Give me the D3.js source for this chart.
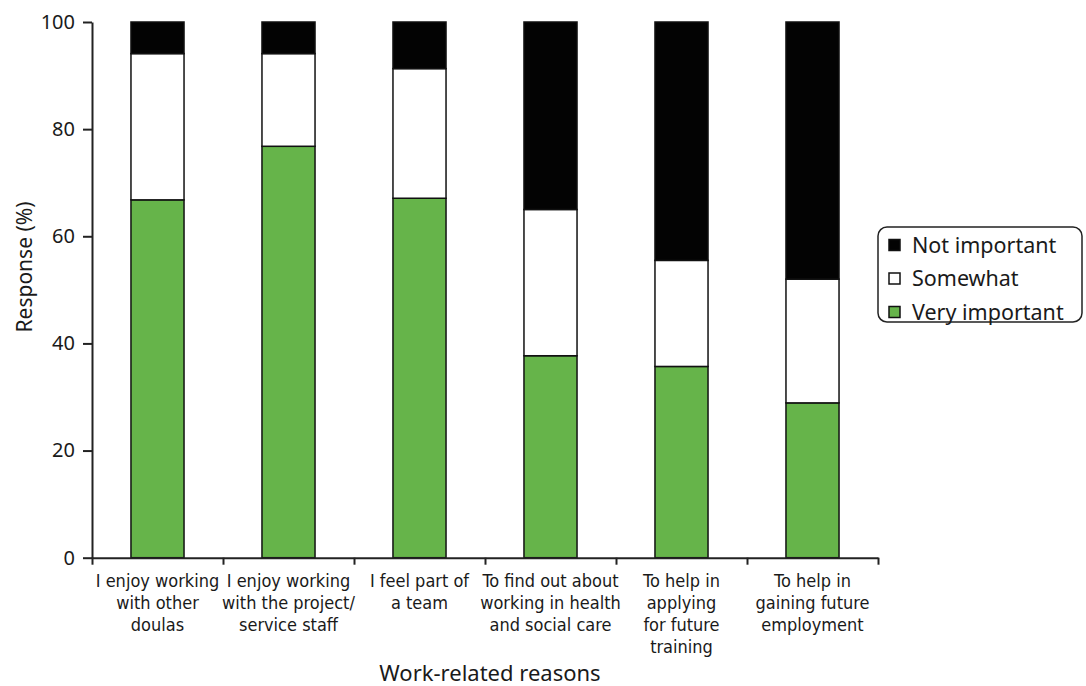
<!DOCTYPE html>
<html>
<head>
<meta charset="utf-8">
<script src="https://cdn.jsdelivr.net/npm/d3@7"></script>
<style>
  body { margin: 0; background: #fff; }
  svg text { fill: #1a1a1a; }
</style>
</head>
<body>
<div id="container"></div>
<script>
// categories (x labels split into lines)
var categories = [
  ["I enjoy working", "with other", "doulas"],
  ["I enjoy working", "with the project/", "service staff"],
  ["I feel part of", "a team"],
  ["To find out about", "working in health", "and social care"],
  ["To help in", "applying", "for future", "training"],
  ["To help in", "gaining future", "employment"]
];
var seriesNames = ["Very important", "Somewhat", "Not important"];
var veryImportant = [66.8, 76.8, 67.1, 37.7, 35.7, 28.9];
var somewhat = [27.3, 17.3, 24.2, 27.3, 19.8, 23.1];
var notImportant = [5.9, 5.9, 8.7, 35.0, 44.5, 48.0];
var yTicks = [0, 20, 40, 60, 80, 100];
var colors = ["#66b44a", "#ffffff", "#030303"];

var w = 1086, h = 686;
var margin = {left: 92, top: 22, right: 208, bottom: 128};

var svg = d3.select("#container").append("svg")
  .attr("width", w).attr("height", h);

var rows = categories.map(function(c, i) {
  return {i: i, "Very important": veryImportant[i], "Somewhat": somewhat[i], "Not important": notImportant[i]};
});

var x = d3.scaleBand()
  .domain(d3.range(categories.length))
  .range([margin.left, w - margin.right])
  .paddingInner(0.595).paddingOuter(0.2975);
var xAxisScale = d3.scaleLinear().domain([0, categories.length]).range([margin.left, w - margin.right]);

var y = d3.scaleLinear().domain([0, 100]).range([h - margin.bottom - 0.3, margin.top]);

var stack = d3.stack().keys(seriesNames)(rows);

// bars
svg.append("g").selectAll("g")
  .data(stack).enter().append("g")
  .attr("fill", function(d, k) { return colors[k]; })
  .selectAll("rect")
  .data(function(d) { return d; })
  .enter().append("rect")
  .attr("x", function(d) { return x(d.data.i); })
  .attr("width", x.bandwidth())
  .attr("y", function(d) { return y(d[1]); })
  .attr("height", function(d) { return y(d[0]) - y(d[1]); })
  .attr("stroke", "#111")
  .attr("stroke-width", 1.5);

// y axis
var gy = svg.append("g")
  .attr("transform", "translate(" + margin.left + ",0)")
  .call(d3.axisLeft(y).tickValues(yTicks).tickSize(9).tickPadding(8).tickSizeOuter(0));
gy.selectAll("text").style("font-family", "'Noto Sans', sans-serif").style("font-size", "20px").attr("fill", "#1a1a1a");

// x axis, ticks at band edges
var gx = svg.append("g")
  .attr("transform", "translate(0," + y(0) + ")")
  .call(d3.axisBottom(xAxisScale).ticks(categories.length).tickSize(7).tickFormat("").tickSizeOuter(0));

svg.selectAll(".domain, .tick line").attr("stroke", "#222").attr("stroke-width", 2);

// category labels
var lab = svg.append("g").selectAll("text")
  .data(categories).enter().append("text")
  .attr("x", function(d, i) { return x(i) + x.bandwidth() / 2; })
  .attr("y", y(0) + 29)
  .attr("text-anchor", "middle")
  .style("font-family", "'Liberation Sans Narrow', 'DejaVu Sans Condensed', sans-serif")
  .style("font-size", "18px");
lab.selectAll("tspan")
  .data(function(d) { return d; })
  .enter().append("tspan")
  .attr("x", function() { return d3.select(this.parentNode).attr("x"); })
  .attr("dy", function(d, j) { return j === 0 ? 0 : 22; })
  .text(function(d) { return d; });

// axis titles
svg.append("text")
  .attr("transform", "translate(32,267) rotate(-90)")
  .attr("text-anchor", "middle")
  .style("font-family", "'Noto Sans', sans-serif").style("font-size", "21px")
  .text("Response (%)");
svg.append("text")
  .attr("x", 490)
  .attr("y", 681)
  .attr("text-anchor", "middle")
  .style("font-family", "'Noto Sans', sans-serif").style("font-size", "22px")
  .text("Work-related reasons");

// legend
var legend = svg.append("g").attr("transform", "translate(878,227)");
legend.append("rect")
  .attr("width", 204).attr("height", 95).attr("rx", 9)
  .attr("fill", "#fff").attr("stroke", "#222").attr("stroke-width", 1.5);
var legendOrder = seriesNames.slice().reverse();
var li = legend.selectAll("g.item")
  .data(legendOrder).enter().append("g")
  .attr("class", "item")
  .attr("transform", function(d, i) { return "translate(11," + (18 + i * 33.5) + ")"; });
li.append("rect")
  .attr("x", 0).attr("y", -5.5).attr("width", 11).attr("height", 11)
  .attr("fill", function(d) { return colors[seriesNames.indexOf(d)]; })
  .attr("stroke", "#111").attr("stroke-width", 1.5);
li.append("text")
  .attr("x", 23).attr("dy", "0.35em")
  .style("font-family", "'Noto Sans', sans-serif").style("font-size", "21.5px")
  .text(function(d) { return d; });
</script>
</body>
</html>
